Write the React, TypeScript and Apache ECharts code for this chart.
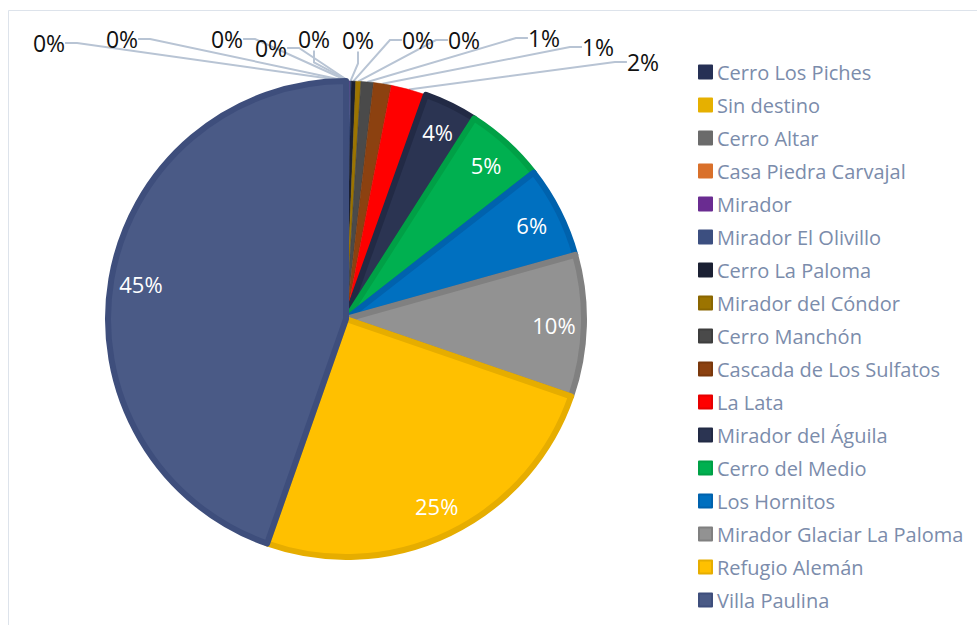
import React, { useEffect, useRef } from "react";
import * as echarts from "echarts";

const categories = [
  "Cerro Los Piches",
  "Sin destino",
  "Cerro Altar",
  "Casa Piedra Carvajal",
  "Mirador",
  "Mirador El Olivillo",
  "Cerro La Paloma",
  "Mirador del Cóndor",
  "Cerro Manchón",
  "Cascada de Los Sulfatos",
  "La Lata",
  "Mirador del Águila",
  "Cerro del Medio",
  "Los Hornitos",
  "Mirador Glaciar La Paloma",
  "Refugio Alemán",
  "Villa Paulina",
];

const values = [0.05, 0.05, 0.05, 0.05, 0.05, 0.1, 0.3, 0.35, 0.85, 1.2, 2.4, 3.6, 5.4, 6.2, 9.6, 25.1, 44.6];

const fillColors = [
  "#263055", "#e6b000", "#6b6b6b", "#d9702a", "#6a2c91", "#3c4f80",
  "#1b2033", "#9c7400", "#4a4a4a", "#8c4110", "#ff0000", "#2b3452",
  "#00b050", "#0070c0", "#929292", "#ffc000", "#4a5a86",
];
const borderColors = [
  "#263055", "#e6b000", "#6b6b6b", "#d9702a", "#6a2c91", "#3c4f80",
  "#1b2033", "#8a6600", "#3e3e3e", "#7a380c", "#e60000", "#222a45",
  "#00a046", "#0062ad", "#808080", "#e6ad00", "#3e4e7c",
];

// label anchor positions for the small outer labels (layout only)
const outerLabelPos: [number, number][] = [
  [49, 43], [122, 39], [227, 39], [271, 48], [314, 39], [358, 40],
  [418, 40], [464, 40], [544, 38], [598, 47], [643, 62],
];

const SMALL_COUNT = 11;

export default function App() {
  const ref = useRef<HTMLDivElement>(null);
  useEffect(() => {
    document.body.style.margin = "0";
    if (!ref.current) return;
    const chart = echarts.init(ref.current, undefined, { renderer: "svg" });
    const font = "'Open Sans', 'Noto Sans', sans-serif";
    const mainData = categories.map((name, i) => ({
      name,
      value: values[i],
      itemStyle: {
        color: fillColors[i],
        borderColor: borderColors[i],
        borderWidth: i < SMALL_COUNT ? 0.5 : 6,
      },
      label: { show: i < SMALL_COUNT },
      labelLine: { show: i < SMALL_COUNT },
    }));
    const ringData = categories.map((name, i) => ({
      name,
      value: values[i],
      label: { show: i >= SMALL_COUNT },
    }));
    const pctFmt = (p: any) => Math.round(p.percent) + "%";
    chart.setOption({
      animation: false,
      backgroundColor: "#ffffff",
      graphic: [
        {
          type: "rect",
          z: -10,
          shape: { x: 8.5, y: 10.5, width: 1000, height: 700 },
          style: { fill: "none", stroke: "#dde3eb", lineWidth: 1 },
        },
      ],
      legend: {
        orient: "vertical",
        left: 698,
        top: 62,
        padding: 0,
        itemWidth: 13,
        itemHeight: 13,
        itemGap: 13,
        icon: "rect",
        selectedMode: false,
        data: categories,
        textStyle: {
          color: "#7b8cab",
          fontSize: 20,
          lineHeight: 20,
          fontFamily: font,
        },
      },
      series: [
        {
          type: "pie",
          center: [346, 319],
          radius: 238,
          startAngle: 90,
          clockwise: true,
          avoidLabelOverlap: false,
          silent: true,
          data: mainData,
          label: {
            position: "outside",
            formatter: pctFmt,
            color: "#111111",
            fontSize: 23,
            fontFamily: font,
          },
          labelLine: {
            length: 8,
            length2: 12,
            lineStyle: { color: "#b8c4d4", width: 2 },
          },
          labelLayout: (params: any) => {
            const i = params.dataIndex;
            if (i < SMALL_COUNT) {
              return {
                x: outerLabelPos[i][0],
                y: outerLabelPos[i][1],
                align: "center",
                verticalAlign: "middle",
              };
            }
            return {};
          },
        },
        {
          type: "pie",
          center: [346, 319],
          radius: [170, 240],
          startAngle: 90,
          clockwise: true,
          avoidLabelOverlap: false,
          silent: true,
          itemStyle: { color: "rgba(0,0,0,0)", borderWidth: 0 },
          data: ringData,
          label: {
            position: "inside",
            formatter: pctFmt,
            color: "#ffffff",
            fontSize: 22,
            fontFamily: font,
          },
          labelLine: { show: false },
        },
      ],
    });
    return () => chart.dispose();
  }, []);
  return <div ref={ref} style={{ width: 977, height: 625 }} />;
}
